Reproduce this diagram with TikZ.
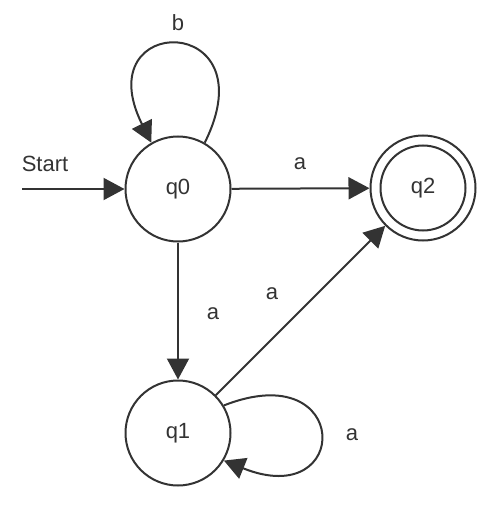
\documentclass[tikz,border=0pt]{standalone}
\usepackage{fontspec}
\setmainfont{Liberation Sans}
\usetikzlibrary{arrows.meta}
\definecolor{ink}{HTML}{333333}
\begin{document}
\begin{tikzpicture}[x=1pt,y=-1pt,
  state/.style={circle,draw=ink,line width=2pt,fill=white,minimum size=105pt,inner sep=0pt,font=\fontsize{22}{26}\selectfont,text=ink},
  edge/.style={draw=ink,line width=2pt,-{Triangle[length=21pt,width=22pt]}},
  lbl/.style={font=\fontsize{22}{26}\selectfont,text=ink,inner sep=0pt}]
\useasboundingbox (0,0) rectangle (502,513);
\node[state] (q0) at (178,189) {q0};
\node[state] (q2) at (423,188) {q2};
\node[state] (q1) at (178,433) {q1};
\draw[ink,line width=2pt] (q2) circle (42.5pt);
\coordinate (s) at (22,189);
\draw[edge] (s) -- (q0.west);
\draw[edge] (q0) -- (q2);
\draw[edge] (q0) -- (q1);
\draw[edge] (q1) -- (q2);
\draw[edge] (q0.60) .. controls (270,12) and (86,12) .. (q0.120);
\draw[edge] (q1.31) .. controls (352,355) and (352,512) .. (q1.-31);
\node[lbl] (lS) at (45,164) {Start};
\node[lbl] (lb) at (178,23) {b};
\node[lbl] (la1) at (300,164) {a};
\node[lbl] (la2) at (213,314) {a};
\node[lbl] (la3) at (272,294) {a};
\node[lbl] (la4) at (352,435) {a};
\end{tikzpicture}
\end{document}
